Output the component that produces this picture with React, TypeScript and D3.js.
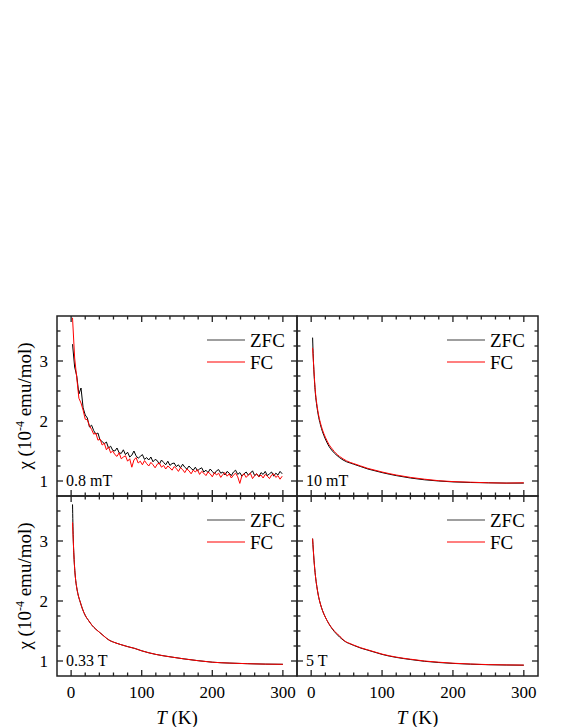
import React from 'react'
import * as d3 from 'd3'

// 0.8 mT sweep, noisy, read point by point (T in K, chi in 1e-4 emu/mol)
const tLow = [2, 5, 8, 11, 14, 17, 20, 23, 26, 29, 32, 35, 38, 41, 44, 47, 50, 53, 56, 59, 62, 65, 68, 71, 74, 77, 80, 83, 86, 89, 92, 95, 98, 101, 104, 107, 110, 113, 116, 119, 122, 125, 128, 131, 134, 137, 140, 143, 146, 149, 152, 155, 158, 161, 164, 167, 170, 173, 176, 179, 182, 185, 188, 191, 194, 197, 200, 203, 206, 209, 212, 215, 218, 221, 224, 227, 230, 233, 236, 239, 242, 245, 248, 251, 254, 257, 260, 263, 266, 269, 272, 275, 278, 281, 284, 287, 290, 293, 296, 299]
const zfcLow = [
  3.28, 2.9, 2.75, 2.45, 2.55, 2.22, 2.1, 2.05, 1.9, 1.93,
  1.84, 1.78, 1.8, 1.68, 1.66, 1.62, 1.65, 1.55, 1.58, 1.51,
  1.5, 1.55, 1.47, 1.46, 1.52, 1.44, 1.48, 1.4, 1.43, 1.5,
  1.42, 1.38, 1.41, 1.44, 1.36, 1.39, 1.35, 1.4, 1.32, 1.36,
  1.34, 1.28, 1.35, 1.31, 1.27, 1.33, 1.26, 1.29, 1.3, 1.24,
  1.27, 1.22, 1.28, 1.23, 1.2, 1.25, 1.21, 1.18, 1.23, 1.17,
  1.2, 1.22, 1.15, 1.18, 1.14, 1.2, 1.16, 1.12, 1.17, 1.19,
  1.13, 1.15, 1.1, 1.16, 1.13, 1.09, 1.15, 1.18, 1.11, 1.14,
  1.08, 1.12, 1.15, 1.1, 1.13, 1.17, 1.09, 1.12, 1.07, 1.14,
  1.11, 1.16, 1.09, 1.12, 1.15, 1.08, 1.13, 1.1, 1.16, 1.12,
]
const fcLow = [
  3.72, 3.05, 2.72, 2.38, 2.3, 2.18, 2.03, 2.02, 1.92, 1.86,
  1.78, 1.8, 1.68, 1.7, 1.6, 1.63, 1.52, 1.57, 1.47, 1.5,
  1.44, 1.41, 1.47, 1.37, 1.4, 1.42, 1.33, 1.37, 1.23, 1.35,
  1.39, 1.3, 1.33, 1.27, 1.34, 1.29, 1.25, 1.31, 1.27, 1.22,
  1.28, 1.3, 1.23, 1.26, 1.2, 1.25, 1.22, 1.18, 1.24, 1.21,
  1.16, 1.22, 1.19, 1.14, 1.2, 1.17, 1.12, 1.18, 1.15, 1.19,
  1.11, 1.16, 1.13, 1.09, 1.15, 1.12, 1.07, 1.14, 1.1, 1.13,
  1.06, 1.11, 1.14, 1.08, 1.12, 1.05, 1.1, 1.13, 1.07, 0.96,
  1.09, 1.12, 1.06, 1.1, 1.13, 1.04, 1.09, 1.12, 1.07, 1.1,
  1.05, 1.11, 1.08, 1.04, 1.1, 1.12, 1.06, 1.09, 1.03, 1.08,
]

// the other three sweeps are smooth, one shared temperature grid
const tGrid = [2, 3, 4, 6, 8, 10, 13, 16, 20, 25, 30, 35, 40, 45, 50, 55, 60, 70, 80, 90, 100, 120, 140, 160, 180, 200, 225, 250, 275, 300]
const zfc10mT = [3.39, 3.05, 2.8, 2.45, 2.25, 2.1, 1.94, 1.82, 1.7, 1.58, 1.5, 1.44, 1.39, 1.35, 1.32, 1.3, 1.28, 1.24, 1.2, 1.17, 1.14, 1.09, 1.05, 1.02, 1.0, 0.985, 0.975, 0.97, 0.965, 0.965]
const fc10mT = [3.22, 3.02, 2.82, 2.48, 2.28, 2.13, 1.97, 1.85, 1.73, 1.61, 1.53, 1.46, 1.41, 1.37, 1.335, 1.31, 1.29, 1.25, 1.21, 1.18, 1.15, 1.1, 1.06, 1.03, 1.005, 0.99, 0.98, 0.97, 0.965, 0.97]
const zfc033T = [3.61, 3.05, 2.75, 2.4, 2.22, 2.1, 1.98, 1.87, 1.76, 1.67, 1.59, 1.53, 1.48, 1.43, 1.38, 1.34, 1.315, 1.275, 1.24, 1.21, 1.17, 1.11, 1.07, 1.035, 1.005, 0.98, 0.965, 0.955, 0.948, 0.945]
const fc033T = [3.31, 3.02, 2.75, 2.4, 2.22, 2.1, 1.98, 1.87, 1.76, 1.67, 1.59, 1.53, 1.48, 1.43, 1.38, 1.34, 1.315, 1.275, 1.24, 1.21, 1.17, 1.11, 1.07, 1.035, 1.005, 0.98, 0.965, 0.955, 0.948, 0.945]
const zfc5T = [3.04, 2.85, 2.68, 2.42, 2.24, 2.1, 1.95, 1.84, 1.73, 1.62, 1.53, 1.46, 1.4, 1.35, 1.31, 1.285, 1.26, 1.215, 1.18, 1.145, 1.11, 1.06, 1.025, 0.995, 0.975, 0.96, 0.947, 0.938, 0.933, 0.93]
const fc5T = [3.04, 2.85, 2.68, 2.42, 2.24, 2.1, 1.95, 1.84, 1.73, 1.62, 1.54, 1.47, 1.42, 1.355, 1.315, 1.29, 1.265, 1.22, 1.185, 1.15, 1.115, 1.065, 1.03, 1.0, 0.98, 0.963, 0.95, 0.94, 0.935, 0.932]

const fieldLabels = ['0.8 mT', '10 mT', '0.33 T', '5 T']
const seriesNames = ['ZFC', 'FC']
const seriesColors = ['#000000', '#ff0000']
const xTickLabels = [0, 100, 200, 300]
const yTickLabels = [1, 2, 3]

const W = 580
const H = 727
const cols = [[57, 297], [297, 538]]
const rows = [[316, 496], [496, 676]]
const font = '"Liberation Serif", "Times New Roman", serif'
const frameColor = '#222'

const panels = [
  { col: 0, row: 0, t: tLow, zfc: zfcLow, fc: fcLow, smooth: false },
  { col: 1, row: 0, t: tGrid, zfc: zfc10mT, fc: fc10mT, smooth: true },
  { col: 0, row: 1, t: tGrid, zfc: zfc033T, fc: fc033T, smooth: true },
  { col: 1, row: 1, t: tGrid, zfc: zfc5T, fc: fc5T, smooth: true },
]

function Panel({ p, label, idx }) {
  const [x0, x1] = cols[p.col]
  const [y0, y1] = rows[p.row]
  const x = d3.scaleLinear().domain([-20, 320]).range([x0, x1])
  const y = d3.scaleLinear().domain([0.75, 3.75]).range([y1, y0])
  const line = d3
    .line<number>()
    .x((_, i) => x(p.t[i]))
    .y((d) => y(d))
    .curve(p.smooth ? d3.curveMonotoneX : d3.curveLinear)

  const xTicks = d3.range(0, 301, 20)
  const yTicks = d3.range(1, 3.51, 0.25)
  const clipId = `clip-${idx}`

  return (
    <g>
      <clipPath id={clipId}>
        <rect x={x0} y={y0} width={x1 - x0} height={y1 - y0} />
      </clipPath>
      <g clipPath={`url(#${clipId})`} fill="none" strokeWidth={1}>
        <path d={line(p.zfc)} stroke={seriesColors[0]} />
        <path d={line(p.fc)} stroke={seriesColors[1]} />
      </g>

      {/* inward ticks on all four sides */}
      <g stroke={frameColor} strokeWidth={1.3}>
        {xTicks.map((v) => {
          const len = v % 100 === 0 ? 6 : 3.5
          return (
            <g key={'x' + v}>
              <line x1={x(v)} x2={x(v)} y1={y1} y2={y1 - len} />
              <line x1={x(v)} x2={x(v)} y1={y0} y2={y0 + len} />
            </g>
          )
        })}
        {yTicks.map((v) => {
          const len = Number.isInteger(v) ? 6 : 3.5
          return (
            <g key={'y' + v}>
              <line x1={x0} x2={x0 + len} y1={y(v)} y2={y(v)} />
              <line x1={x1} x2={x1 - len} y1={y(v)} y2={y(v)} />
            </g>
          )
        })}
      </g>
      <rect x={x0} y={y0} width={x1 - x0} height={y1 - y0} fill="none" stroke={frameColor} strokeWidth={1.5} />

      {p.row === 1 &&
        xTickLabels.map((v) => (
          <text key={'xl' + v} x={x(v)} y={698} textAnchor="middle" fontSize={17}>
            {v}
          </text>
        ))}
      {p.col === 0 &&
        yTickLabels.map((v) => (
          <text key={'yl' + v} x={x0 - 9} y={y(v) + 6} textAnchor="end" fontSize={17}>
            {v}
          </text>
        ))}

      {/* legend */}
      {seriesNames.map((s, i) => (
        <g key={s}>
          <line x1={x0 + 150} x2={x0 + 188} y1={y0 + 24 + i * 22} y2={y0 + 24 + i * 22} stroke={seriesColors[i]} strokeWidth={1.2} opacity={i === 0 ? 0.75 : 1} />
          <text x={x0 + 193} y={y0 + 30.5 + i * 22} fontSize={19}>
            {s}
          </text>
        </g>
      ))}

      <text x={x0 + 9} y={y1 - 10.5} fontSize={16}>
        {label}
      </text>
    </g>
  )
}

export default function App() {
  return (
    <svg width={W} height={H} style={{ position: 'absolute', left: 0, top: 0 }} fontFamily={font} fill="#000">
      <rect width={W} height={H} fill="#fff" />
      {panels.map((p, i) => (
        <Panel key={i} p={p} label={fieldLabels[i]} idx={i} />
      ))}

      {rows.map(([a, b], i) => (
        <text key={'yt' + i} transform={`translate(31,${(a + b) / 2}) rotate(-90)`} textAnchor="middle" fontSize={19}>
          χ (10
          <tspan dy={-7} fontSize={12}>
            -4
          </tspan>
          <tspan dy={7}> emu/mol)</tspan>
        </text>
      ))}
      {cols.map(([a, b], i) => (
        <text key={'xt' + i} x={(a + b) / 2} y={724} textAnchor="middle" fontSize={19}>
          <tspan fontStyle="italic">T</tspan> (K)
        </text>
      ))}
    </svg>
  )
}
